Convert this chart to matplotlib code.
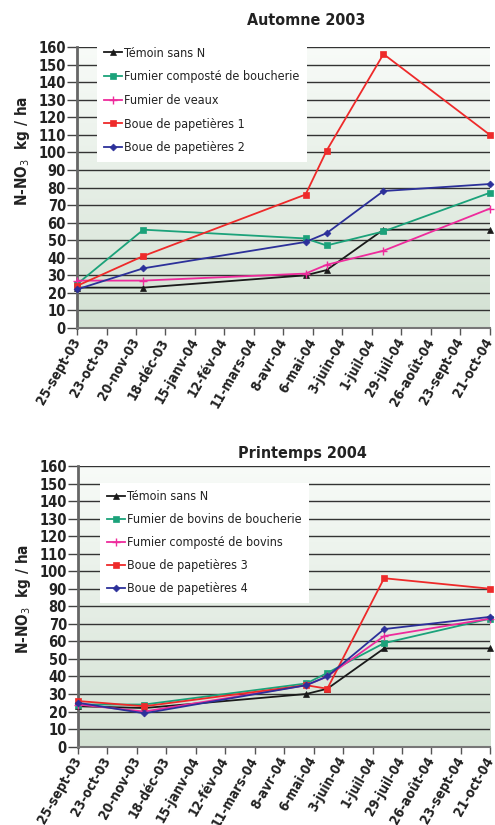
import datetime as dt
import numpy as np
import matplotlib
matplotlib.use('Agg')
import matplotlib.pyplot as plt
import matplotlib.dates as mdates
from matplotlib import font_manager

# look for a condensed face
cond = [f for f in font_manager.fontManager.ttflist
        if str(f.stretch) in ('condensed', 'semi-condensed', '500', '400', '300')
        and 'Condensed' in f.fname or 'Narrow' in f.fname]
FONT = cond[0].name if cond else 'Liberation Sans'
plt.rcParams['font.family'] = [FONT, 'DejaVu Sans']
plt.rcParams['font.stretch'] = 'condensed'
plt.rcParams['mathtext.fontset'] = 'custom'
plt.rcParams['mathtext.rm'] = FONT
plt.rcParams['mathtext.bf'] = FONT + ':bold'

# sampling dates (same for both seasons)
dates = [dt.date(2003, 9, 25), dt.date(2003, 11, 27), dt.date(2004, 4, 29),
         dt.date(2004, 5, 19), dt.date(2004, 7, 12), dt.date(2004, 10, 21)]

tick_labels = ['25-sept-03', '23-oct-03', '20-nov-03', '18-déc-03', '15-janv-04',
               '12-fév-04', '11-mars-04', '8-avr-04', '6-mai-04', '3-juin-04',
               '1-juil-04', '29-juil-04', '26-août-04', '23-sept-04', '21-oct-04']

# Automne 2003
aut_labels = ['Témoin sans N', 'Fumier composté de boucherie', 'Fumier de veaux',
              'Boue de papetières 1', 'Boue de papetières 2']
aut_temoin = [23, 23, 30, 33, 56, 56]
aut_fumier_comp = [25, 56, 51, 47, 55, 77]
aut_fumier_veaux = [27, 27, 31, 36, 44, 68]
aut_boue1 = [24, 41, 76, 101, 156, 110]
aut_boue2 = [22, 34, 49, 54, 78, 82]

# Printemps 2004
pri_labels = ['Témoin sans N', 'Fumier de bovins de boucherie', 'Fumier composté de bovins',
              'Boue de papetières 3', 'Boue de papetières 4']
pri_temoin = [23, 22, 30, 33, 56, 56]
pri_fumier_bov = [24, 24, 36, 42, 59, 73]
pri_fumier_comp = [24, 20, 35, 40, 63, 73]
pri_boue3 = [26, 23, 35, 33, 96, 90]
pri_boue4 = [25, 19, 35, 40, 67, 74]

colors = ['#1a1a1a', '#1ba27a', '#ee2b9c', '#ee2a2a', '#2c309a']
markers = ['^', 's', '+', 's', 'D']
msizes = [4, 4, 6, 4.5, 3.5]


def draw(ax, series, labels, title, title_x, title_pad, leg_xy, leg_sp, ylab_y):
    start = mdates.date2num(dt.date(2003, 9, 25))
    end = mdates.date2num(dt.date(2004, 10, 21))
    ax.set_xlim(start, end)
    ax.set_ylim(0, 160)
    # green gradient background
    grad = np.linspace(0, 1, 256).reshape(-1, 1)
    cmap = matplotlib.colors.LinearSegmentedColormap.from_list('bg', ['#d3e1d3', '#f8fbf8'])
    ax.imshow(grad, aspect='auto', cmap=cmap, origin='lower',
              extent=(start, end, 0, 160), zorder=0)
    for v in range(10, 161, 10):
        ax.axhline(v, color='#333333', lw=1.0, zorder=1)
    x = [mdates.date2num(d) for d in dates]
    for s, lab, c, m, ms in zip(series, labels, colors, markers, msizes):
        ax.plot(x, s, color=c, marker=m, markersize=ms, lw=1.3, label=lab,
                markeredgewidth=1.0 if m == '+' else 0.5, clip_on=False, zorder=3)
    ticks = start + 28 * np.arange(15)
    ax.set_xticks(ticks)
    ax.set_xticklabels(tick_labels, rotation=60, ha='right', va='center',
                       rotation_mode='anchor', fontsize=9.8, fontweight='bold',
                       color='#222222')
    ax.set_yticks(range(0, 161, 10))
    ax.set_yticklabels([str(v) for v in range(0, 161, 10)], fontsize=10.5,
                       fontweight='bold', color='#222222')
    ax.tick_params(axis='y', length=7, width=1, color='#444444', pad=1)
    ax.tick_params(axis='x', length=5, width=1, color='#555555', pad=3)
    for sp in ['top', 'right']:
        ax.spines[sp].set_visible(False)
    ax.spines['left'].set_color('#666666')
    ax.spines['left'].set_linewidth(2)
    ax.spines['bottom'].set_color('#777777')
    ax.spines['bottom'].set_linewidth(1.5)
    ax.set_title(title, fontsize=11.5, fontweight='bold', color='#222222',
                 x=title_x, pad=title_pad)
    ax.set_ylabel(r'N-NO$_3$  kg / ha', fontsize=11, fontweight='bold', color='#222222')
    ax.yaxis.set_label_coords(-0.11, ylab_y)
    leg = ax.legend(loc='upper left', bbox_to_anchor=leg_xy, frameon=True,
                    fancybox=False, framealpha=1, facecolor='white', edgecolor='none',
                    fontsize=9, handlelength=1.4, handletextpad=0.15,
                    labelspacing=leg_sp, borderpad=0.6, borderaxespad=0)
    leg.set_zorder(4)
    for t in leg.get_texts():
        t.set_color('#222222')


fig = plt.figure(figsize=(4.95, 8.25), dpi=100)
ax1 = fig.add_axes([0.1556, 0.6024, 0.834, 0.3406])
ax2 = fig.add_axes([0.1576, 0.0950, 0.833, 0.3402])

draw(ax1, [aut_temoin, aut_fumier_comp, aut_fumier_veaux, aut_boue1, aut_boue2],
     aut_labels, 'Automne 2003', 0.555, 15.5, (0.048, 1.028), 0.85, 0.63)
draw(ax2, [pri_temoin, pri_fumier_bov, pri_fumier_comp, pri_boue3, pri_boue4],
     pri_labels, 'Printemps 2004', 0.545, 6, (0.053, 0.94), 0.8, 0.525)

fig.savefig('out.png', dpi=100)
